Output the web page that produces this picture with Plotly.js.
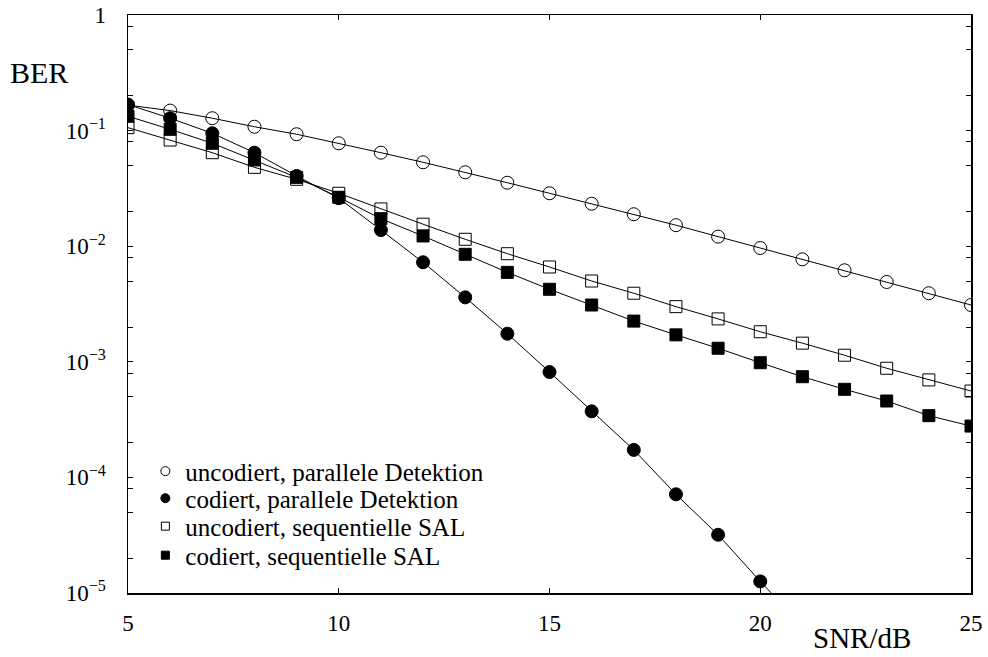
<!DOCTYPE html>
<html>
<head>
<meta charset="utf-8">
<script src="https://cdn.plot.ly/plotly-3.0.1.min.js"></script>
<style>html,body{margin:0;padding:0;background:#fff;}#chart{width:988px;height:657px;}</style>
</head>
<body>
<div id="chart"></div>
<script>
// SNR in dB
var snr = [5,6,7,8,9,10,11,12,13,14,15,16,17,18,19,20,21,22,23,24,25];
var snrCoded = [5,6,7,8,9,10,11,12,13,14,15,16,17,18,19,20,21];

// BER values
var uncodedParallel = [0.166,0.149,0.128,0.108,0.093,0.0777,0.0644,0.0532,0.0436,0.0354,0.0287,0.0233,0.0189,0.0152,0.0121,0.00964,0.0077,0.00619,0.0049,0.00392,0.0031];
var codedParallel = [0.168,0.128,0.0948,0.0644,0.0405,0.026,0.0138,0.00726,0.00361,0.00175,0.000816,0.000373,0.000173,0.0000714,0.0000319,0.0000126,0.0000052];
var uncodedSeq = [0.106,0.0829,0.0644,0.0481,0.0379,0.0287,0.021,0.0155,0.01148,0.00861,0.00661,0.005,0.00392,0.003,0.00235,0.00182,0.00145,0.00114,0.000879,0.000697,0.000559];
var codedSeq = [0.133,0.1026,0.0777,0.0557,0.0394,0.0265,0.0173,0.01226,0.00851,0.00594,0.00424,0.0031,0.00225,0.00171,0.00131,0.000982,0.000743,0.000578,0.000458,0.000342,0.000278];

var legendNames = ["uncodiert, parallele Detektion","codiert, parallele Detektion","uncodiert, sequentielle SAL","codiert, sequentielle SAL"];

// axis ticks
var xTickVals = [5,10,15,20,25];
var yTickVals = [1e-5,1e-4,1e-3,1e-2,1e-1,1];
var yTickText = ["10<sup>\u22125</sup>","10<sup>\u22124</sup>","10<sup>\u22123</sup>","10<sup>\u22122</sup>","10<sup>\u22121</sup>","1"];

var FONT = "'Liberation Serif', 'Times New Roman', serif";
var line = {color:"#000", width:1};

function curve(x, y, sym, size){
  return {x:x, y:y, type:"scatter", mode:"lines+markers", showlegend:false,
    line:line, marker:{symbol:sym, size:size, color:"#000", line:{color:"#000", width:1}}, cliponaxis:true, hoverinfo:"x+y"};
}
function legendItem(name, sym, size, lg){
  return {x:[null], y:[null], type:"scatter", mode:"markers", name:name, showlegend:true, legend:lg,
    marker:{symbol:sym, size:size, color:"#000", line:{color:"#000", width:1}}};
}

var traces = [
  curve(snr, uncodedParallel, "circle-open", 13),
  curve(snr, uncodedSeq, "square-open", 12),
  curve(snrCoded, codedParallel, "circle", 13),
  curve(snr, codedSeq, "square", 12),
  legendItem(legendNames[0], "circle-open", 9, "legend"),
  legendItem(legendNames[1], "circle", 9, "legend2"),
  legendItem(legendNames[2], "square-open", 8, "legend3"),
  legendItem(legendNames[3], "square", 8, "legend4")
];

// minor tick positions (2, 5, 8 per decade)
var minorVals = [];
for (var e = -5; e < 0; e++) { [2,5,8].forEach(function(m){ minorVals.push(m*Math.pow(10,e)); }); }

function lg(y){
  return {x:0.0206, y:y, xanchor:"left", yanchor:"top", bgcolor:"rgba(0,0,0,0)",
    font:{family:FONT, size:25, color:"#000"}, itemwidth:30, tracegroupgap:0};
}

var layout = {
  width:988, height:657,
  margin:{l:128, r:17, t:15, b:64},
  paper_bgcolor:"#fff", plot_bgcolor:"#fff",
  font:{family:FONT, size:23, color:"#000"},
  showlegend:true,
  legend:lg(0.2502), legend2:lg(0.2034), legend3:lg(0.1550), legend4:lg(0.1048),
  xaxis:{range:[5,25], tickmode:"array", tickvals:xTickVals, showgrid:false, zeroline:false,
    showline:true, linecolor:"#000", linewidth:1.5, mirror:"ticks", ticks:"inside", ticklen:5, tickcolor:"#000",
    ticklabelstandoff:9, tickfont:{family:FONT, size:23, color:"#000"}},
  yaxis:{type:"log", range:[-5,0], tickmode:"array", tickvals:yTickVals, ticktext:yTickText, showgrid:false, zeroline:false,
    showline:true, linecolor:"#000", linewidth:1.5, mirror:"ticks", ticks:"inside", ticklen:5, tickcolor:"#000",
    ticklabelstandoff:16, tickfont:{family:FONT, size:23, color:"#000"},
    minor:{tickmode:"array", tickvals:minorVals, ticks:"inside", ticklen:5, tickcolor:"#000", showgrid:false}},
  annotations:[
    {text:"BER", xref:"paper", yref:"paper", x:-0.106, y:0.9, showarrow:false, xanchor:"center", yanchor:"middle",
      font:{family:FONT, size:30, color:"#000"}},
    {text:"SNR/dB", xref:"paper", yref:"paper", x:0.871, y:-0.078, showarrow:false, xanchor:"center", yanchor:"middle",
      font:{family:FONT, size:29, color:"#000"}}
  ]
};

Plotly.newPlot("chart", traces, layout, {displayModeBar:false, staticPlot:true});
</script>
</body>
</html>
